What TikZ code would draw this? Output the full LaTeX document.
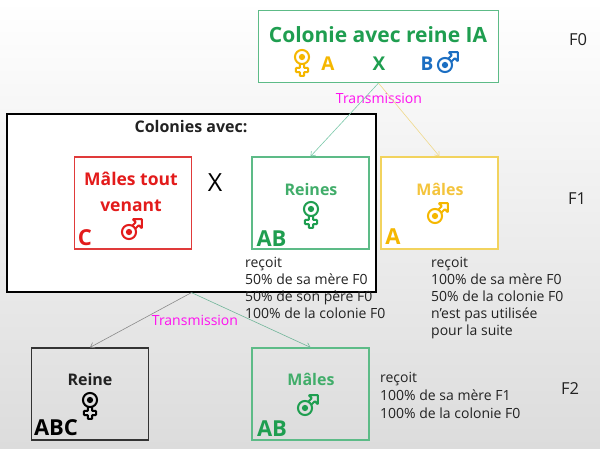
\documentclass[tikz,border=0pt]{standalone}
\usepackage{fontspec}
\setmainfont{Open Sans}
\usetikzlibrary{arrows.meta}
\definecolor{gtext}{HTML}{1F9E50}
\definecolor{gbord}{HTML}{5DBB87}
\definecolor{ytext}{HTML}{F5B700}
\definecolor{ylight}{HTML}{F4C43C}
\definecolor{ybord}{HTML}{F2D35E}
\definecolor{btext}{HTML}{1B6EC2}
\definecolor{rtext}{HTML}{E31B1B}
\definecolor{rbord}{HTML}{E03A3A}
\definecolor{magtext}{HTML}{FF10F0}
\definecolor{txt}{HTML}{222222}
\definecolor{glink}{HTML}{7CC9AA}
\definecolor{ylink}{HTML}{F0D98A}
\definecolor{graylink}{HTML}{8A8A8A}
\definecolor{bgmid}{HTML}{F4F4F4}
\definecolor{bgbot}{HTML}{DCDCDC}
\tikzset{
  femicon/.pic={
    \draw[line width=2] (0,0) circle (6.3);
    \fill (0,0) circle (2.8);
    \draw[line width=2, rounded corners=0.6] (-1.9,6.1) -- (-1.9,9.8) -- (-5.4,9.8) -- (-5.4,13.4) -- (-1.9,13.4) -- (-1.9,16.8) -- (1.9,16.8) -- (1.9,13.4) -- (5.4,13.4) -- (5.4,9.8) -- (1.9,9.8) -- (1.9,6.1);
  },
  malicon/.pic={
    \draw[line width=2] (0,0) circle (6.3);
    \fill (0,0) circle (2.8);
    \draw[line width=2, rounded corners=0.6, rotate=45] (6.2,1.9) -- (10.5,1.9) -- (10.5,5.6) -- (16.3,0) -- (10.5,-5.6) -- (10.5,-1.9) -- (6.2,-1.9);
  },
  ico/.style={scale=1.12},
  boxbase/.style={draw, line width=1.2, inner sep=0, minimum width=117, minimum height=92},
  small/.style={font=\fontsize{14}{17}\selectfont, text=txt, inner sep=0},
  gen/.style={font=\fontsize{16.5}{19}\selectfont, text=txt, inner sep=0},
  letter/.style={font=\fontsize{22}{25}\selectfont\bfseries, inner sep=0},
  hdr/.style={font=\fontsize{16}{19}\selectfont\bfseries, inner sep=0},
  abx/.style={font=\fontsize{19}{22}\selectfont\bfseries, inner sep=0},
  trans/.style={font=\fontsize{14}{16}\selectfont, text=magtext, inner sep=0},
  conn/.style={line width=0.6, -{Straight Barb[length=4pt,width=6pt]}},
}
\begin{document}
\begin{tikzpicture}[x=1pt,y=-1pt]
\useasboundingbox (0,0) rectangle (600,448);
\shade[top color=white, middle color=bgmid, bottom color=bgbot] (0,0) rectangle (600,448);

% F0
\node[boxbase, draw=gbord, fill=white, minimum width=240, minimum height=72] (f0) at (378.5,46.5) {};
\node[font=\fontsize{21}{24}\selectfont\bfseries, text=gtext, inner sep=0] (t0) at (378,35) {Colonie avec reine IA};
\pic[ytext, ico] at (302,57) {femicon};
\node[abx, text=ytext] (a0) at (328,64) {A};
\node[abx, text=gtext] (x0) at (379,64) {X};
\node[abx, text=btext] (b0) at (427,64) {B};
\pic[btext, ico] at (445,65) {malicon};
\node[gen] (lf0) at (578,40) {F0};
\node[trans] (tr1) at (379,98) {Transmission};

% big box
\node[draw=black, line width=1.2, fill=white, inner sep=0, minimum width=369, minimum height=178] (big) at (191.5,203) {};
\node[font=\fontsize{16}{19}\selectfont\bfseries, text=txt, inner sep=0] (cav) at (191,127) {Colonies avec:};

% red box
\node[boxbase, draw=rbord, fill=white] (rb) at (133,203) {};
\node[font=\fontsize{17.5}{26}\selectfont\bfseries, text=rtext, align=center, inner sep=0] (rbt) at (131,192) {Mâles tout\\venant};
\pic[rtext, ico] at (129,232) {malicon};
\node[letter, text=rtext] (rc) at (85,238) {C};
\node[font=\fontsize{25}{28}\selectfont, text=black, inner sep=0] (xx) at (215,183) {X};

% Reines F1
\node[boxbase, draw=gbord, fill=white] (reines) at (310.5,203) {};
\node[hdr, text=gtext!85!white] (reit) at (311,189) {Reines};
\pic[gtext, ico] at (311,209) {femicon};
\node[letter, text=gtext] (rab) at (271.5,238.5) {AB};

% Males F1
\node[boxbase, draw=ybord, fill=white] (males) at (439.5,203) {};
\node[hdr, text=ylight] (malt) at (440,189) {Mâles};
\pic[ytext, ico] at (435,216) {malicon};
\node[letter, text=ytext] (ma) at (393,237) {A};
\node[gen] (lf1) at (577,199) {F1};

\node[small, align=left, anchor=north west] (rtxt) at (245,257) {reçoit\\50\% de sa mère F0\\50\% de son père F0\\100\% de la colonie F0};
\node[small, align=left, anchor=north west] (mtxt) at (431,257) {reçoit\\100\% de sa mère F0\\50\% de la colonie F0\\n'est pas utilisée\\pour la suite};

% F2
\node[trans] (tr2) at (195,320) {Transmission};
\node[boxbase, draw=black!80] (reine2) at (90,394) {};
\node[hdr, text=txt] (r2t) at (90,379) {Reine};
\pic[black, ico] at (90,400) {femicon};
\node[letter, text=black] (abc) at (56,428) {ABC};

\node[boxbase, draw=gbord] (males2) at (310.5,394) {};
\node[hdr, text=gtext!85!white] (m2t) at (311,379) {Mâles};
\pic[gtext, ico] at (305,408) {malicon};
\node[letter, text=gtext] (m2ab) at (272,429) {AB};
\node[small, align=left, anchor=north west, font=\fontsize{14}{18}\selectfont] (ftxt) at (380,372) {reçoit\\100\% de sa mère F1\\100\% de la colonie F0};
\node[gen] (lf2) at (570,389) {F2};

% connectors
\draw[conn, glink] (f0.south) -- (reines.north);
\draw[conn, ylink] (f0.south) -- (males.north);
\draw[conn, graylink] (big.south) -- (reine2.north);
\draw[conn, glink!90!black] (big.south) -- (males2.north);
\end{tikzpicture}
\end{document}
